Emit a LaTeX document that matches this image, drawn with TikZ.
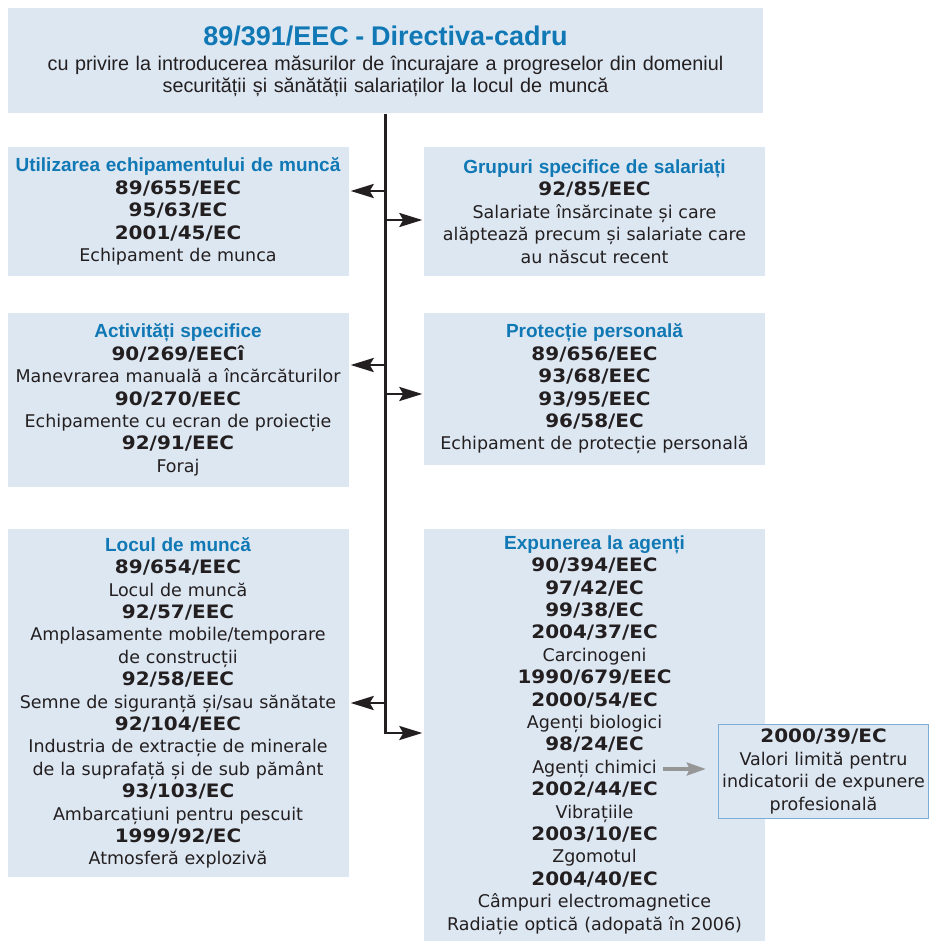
\documentclass[tikz,border=0pt]{standalone}
\usepackage{fontspec}
\setmainfont{DejaVu Sans}
\newfontfamily\numfont[FakeStretch=1.08]{DejaVu Sans Bold}
\newfontfamily\titfont{Liberation Sans Bold}
\newfontfamily\topfont{Liberation Sans}
\usetikzlibrary{arrows.meta}
\definecolor{boxfill}{RGB}{221,231,242}
\definecolor{titblue}{RGB}{16,120,180}
\definecolor{txt}{RGB}{35,31,32}
\definecolor{sideedge}{RGB}{125,172,215}
\definecolor{arrgray}{RGB}{150,150,150}
\newcommand\hd[1]{{\titfont\fontsize{19}{22.4}\selectfont\color{titblue}#1}}
\newcommand\cd[1]{{\numfont\fontsize{18.5}{22.4}\selectfont #1}}
\tikzset{
  box/.style={fill=boxfill, inner sep=0pt, align=center, text=txt,
    font=\fontsize{17.5}{22.4}\selectfont},
  arr/.style={line width=2.9pt, draw=txt, line join=miter,
    -{Stealth[length=23pt,width=14pt,inset=4pt]}},
  grayarr/.style={line width=3.2pt, draw=arrgray,
    -{Stealth[length=19pt,width=13pt,inset=3pt]}}
}
\begin{document}
\begin{tikzpicture}[x=1pt,y=-1pt]
\useasboundingbox (0,0) rectangle (930,941);
% top box
\node[box, minimum width=755, minimum height=105, text width=755,
      font=\topfont\fontsize{19.8}{21.5}\selectfont] (top) at (385.5,61)
  {{\titfont\fontsize{27}{30}\selectfont\color{titblue}89/391/EEC - Directiva-cadru}\\[4pt]
   cu privire la introducerea măsurilor de încurajare a progreselor din domeniul\\
   securității și sănătății salariaților la locul de muncă};
% left column
\node[box, minimum width=341, minimum height=129, text width=341] (util) at (178,211.5)
  {\hd{Utilizarea echipamentului de muncă}\\ \cd{89/655/EEC}\\ \cd{95/63/EC}\\ \cd{2001/45/EC}\\ Echipament de munca};
\node[box, minimum width=341, minimum height=174, text width=341] (activ) at (178,400)
  {\hd{Activități specifice}\\ \cd{90/269/EECî}\\ Manevrarea manuală a încărcăturilor\\ \cd{90/270/EEC}\\ Echipamente cu ecran de proiecție\\ \cd{92/91/EEC}\\ Foraj};
\node[box, minimum width=341, minimum height=348, text width=341] (locul) at (178,703)
  {\hd{Locul de muncă}\\ \cd{89/654/EEC}\\ Locul de muncă\\ \cd{92/57/EEC}\\ Amplasamente mobile/temporare\\ de construcții\\ \cd{92/58/EEC}\\ Semne de siguranță și/sau sănătate\\ \cd{92/104/EEC}\\ Industria de extracție de minerale\\ de la suprafață și de sub pământ\\ \cd{93/103/EC}\\ Ambarcațiuni pentru pescuit\\ \cd{1999/92/EC}\\ Atmosferă explozivă};
% right column
\node[box, minimum width=341, minimum height=129, text width=341] (grup) at (594.5,211.5)
  {\hd{Grupuri specifice de salariați}\\ \cd{92/85/EEC}\\ Salariate însărcinate și care\\ alăptează precum și salariate care\\ au născut recent};
\node[box, minimum width=341, minimum height=152, text width=341] (prot) at (594.5,389)
  {\hd{Protecție personală}\\ \cd{89/656/EEC}\\ \cd{93/68/EEC}\\ \cd{93/95/EEC}\\ \cd{96/58/EC}\\ Echipament de protecție personală};
\node[box, minimum width=341, minimum height=412, text width=341] (expun) at (594.5,735)
  {\hd{Expunerea la agenți}\\ \cd{90/394/EEC}\\ \cd{97/42/EC}\\ \cd{99/38/EC}\\ \cd{2004/37/EC}\\ Carcinogeni\\ \cd{1990/679/EEC}\\ \cd{2000/54/EC}\\ Agenți biologici\\ \cd{98/24/EC}\\ Agenți chimici\\ \cd{2002/44/EC}\\ Vibrațiile\\ \cd{2003/10/EC}\\ Zgomotul\\ \cd{2004/40/EC}\\ Câmpuri electromagnetice\\ Radiație optică (adopată în 2006)};
% side box
\node[box, draw=sideedge, line width=1.5pt, minimum width=210, minimum height=94, text width=210] (side) at (823.5,771.5)
  {\cd{2000/39/EC}\\ Valori limită pentru\\ indicatorii de expunere\\ profesională};
% trunk coordinates
\coordinate (t1) at (385.5,191);
\coordinate (t2) at (385.5,220);
\coordinate (t3) at (385.5,365);
\coordinate (t4) at (385.5,394);
\coordinate (t5) at (385.5,703);
\coordinate (t6) at (385.5,733);
% trunk and branches
\draw[arr, shorten >=1.5pt] (top.south) -- (t6) -- (t6 -| expun.west);
\draw[arr, shorten >=2pt] (t1) -- (t1 -| util.east);
\draw[arr, shorten >=1.5pt] (t2) -- (t2 -| grup.west);
\draw[arr, shorten >=2pt] (t3) -- (t3 -| activ.east);
\draw[arr, shorten >=1.5pt] (t4) -- (t4 -| prot.west);
\draw[arr, shorten >=2pt] (t5) -- (t5 -| locul.east);
% gray arrow
\coordinate (g1) at (663,769);
\draw[grayarr, shorten >=12pt] (g1) -- (g1 -| side.west);
\end{tikzpicture}
\end{document}
